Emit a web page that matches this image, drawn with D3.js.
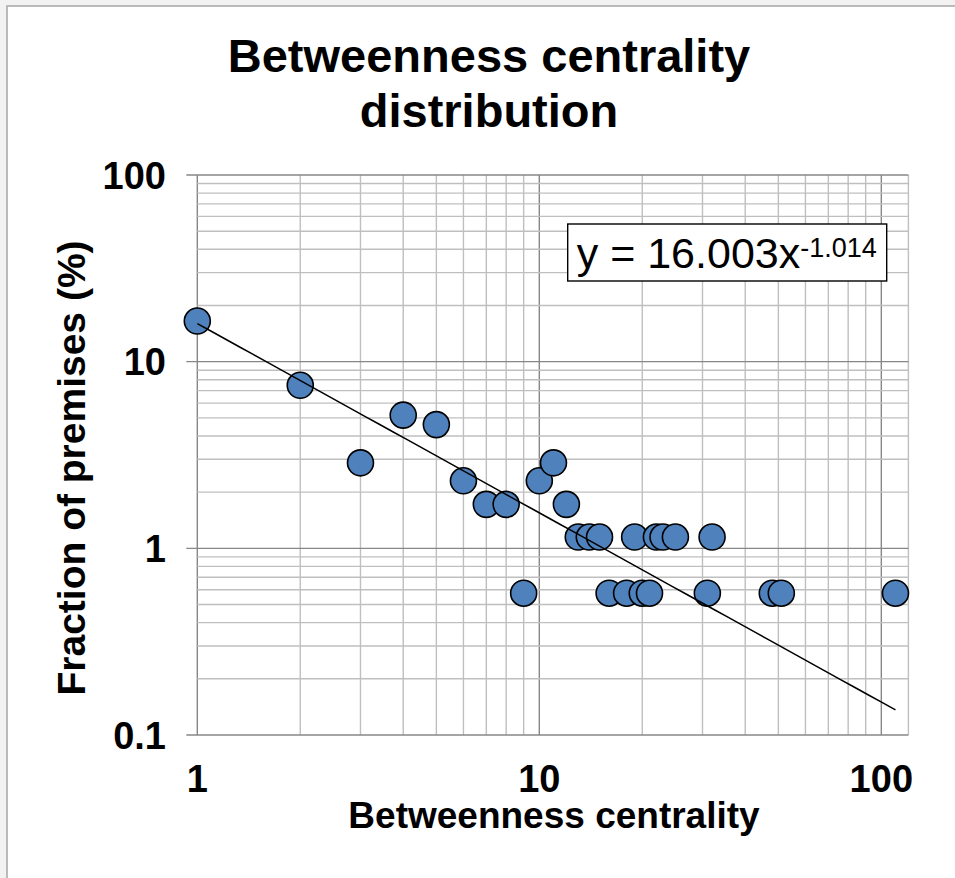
<!DOCTYPE html>
<html>
<head>
<meta charset="utf-8">
<script src="https://cdn.jsdelivr.net/npm/d3@7"></script>
<style>
    body { margin: 0; background: #f2f2f2; }
    svg { display: block; }
</style>
</head>
<body>
<svg id="chart" width="955" height="878"></svg>
<script>
// betweenness centrality (x) vs fraction of premises in % (y)
const xValues = [1, 2, 3, 4, 5, 6, 7, 8, 9, 10, 11, 12,
    13, 14, 15, 19, 22, 23, 25, 32,
    16, 18, 20, 21, 31, 48, 51, 110];
const yValues = [16.5, 7.47, 2.87, 5.17, 4.6, 2.3, 1.72, 1.72, 0.575, 2.3, 2.87, 1.72,
    1.15, 1.15, 1.15, 1.15, 1.15, 1.15, 1.15, 1.15,
    0.575, 0.575, 0.575, 0.575, 0.575, 0.575, 0.575, 0.575];

const xTickLabels = [1, 10, 100];
const yTickLabels = [0.1, 1, 10, 100];

// power trendline y = a * x^b
const trendA = 16.003;
const trendB = -1.014;
const trendFrom = 1;
const trendTo = 110;

const FONT = '"Liberation Sans", Arial, sans-serif';

const svg = d3.select('#chart');

// chart area frame
svg.append('rect')
    .attr('x', 7).attr('y', 6)
    .attr('width', 980).attr('height', 900)
    .attr('fill', '#fff')
    .attr('stroke', '#a6a6a6')
    .attr('stroke-width', 1.5);

// scales
let x = d3.scaleLog().domain([1, 120]).range([197.3, 908.4]);
let y = d3.scaleLog().domain([0.1, 100]).range([735, 175]);

const isMajor = v => Math.abs(Math.log10(v) - Math.round(Math.log10(v))) < 1e-9;

let grid = svg.append('g');

// vertical gridlines
x.ticks().forEach(v => {
    grid.append('line')
        .attr('x1', x(v)).attr('x2', x(v))
        .attr('y1', y(100)).attr('y2', y(0.1))
        .attr('stroke', isMajor(v) ? '#878787' : '#bfbfbf')
        .attr('stroke-width', 1.4);
});
// right edge of plot area
grid.append('line')
    .attr('x1', x.range()[1]).attr('x2', x.range()[1])
    .attr('y1', y(100)).attr('y2', y(0.1))
    .attr('stroke', '#bfbfbf').attr('stroke-width', 1.4);

// horizontal gridlines, major ones run out to the tick marks
y.ticks().forEach(v => {
    grid.append('line')
        .attr('x1', isMajor(v) ? x.range()[0] - 11 : x.range()[0])
        .attr('x2', x.range()[1])
        .attr('y1', y(v)).attr('y2', y(v))
        .attr('stroke', isMajor(v) ? '#878787' : '#bfbfbf')
        .attr('stroke-width', 1.4);
});

let label = (txt, px, py, size, anchor, rot) => {
    svg.append('text')
        .attr('transform', `translate(${px},${py}) rotate(${rot || 0})`)
        .attr('text-anchor', anchor)
        .attr('font-family', FONT)
        .attr('font-weight', 'bold')
        .attr('font-size', size)
        .attr('fill', '#000')
        .text(txt);
};

// tick labels
xTickLabels.forEach(v => label(String(v), x(v), 792, 38, 'middle'));
yTickLabels.forEach(v => label(String(v), 166, y(v) + 13.5, 38, 'end'));

// titles
label('Betweenness centrality', 489, 72, 47, 'middle');
label('distribution', 489, 127, 47, 'middle');
label('Betweenness centrality', 554, 828, 37, 'middle');
label('Fraction of premises (%)', 85, 468, 39, 'middle', -90);

// data points
svg.append('g')
    .selectAll('circle')
    .data(xValues.map((v, i) => ({x: v, y: yValues[i]})))
    .enter().append('circle')
    .attr('cx', d => x(d.x))
    .attr('cy', d => y(d.y))
    .attr('r', 13)
    .attr('fill', '#4f81bd')
    .attr('stroke', '#000')
    .attr('stroke-width', 1.6);

// trendline, drawn above the markers
let trendX = d3.range(0, 51).map(i => trendFrom * Math.pow(trendTo / trendFrom, i / 50));
let trendLine = d3.line()
    .x(d => x(d))
    .y(d => y(trendA * Math.pow(d, trendB)));
svg.append('path')
    .datum(trendX)
    .attr('d', trendLine)
    .attr('fill', 'none')
    .attr('stroke', '#000')
    .attr('stroke-width', 1.5);

// equation label
svg.append('rect')
    .attr('x', 567.7).attr('y', 224)
    .attr('width', 319).attr('height', 57)
    .attr('fill', '#fff')
    .attr('stroke', '#000')
    .attr('stroke-width', 1.4);

let eq = svg.append('text')
    .attr('x', 576.7).attr('y', 268)
    .attr('font-family', FONT)
    .attr('font-size', 43)
    .attr('fill', '#000');
eq.append('tspan').text('y = ' + trendA.toFixed(3) + 'x');
eq.append('tspan')
    .attr('dy', -11.3)
    .attr('font-size', 27)
    .text(trendB.toFixed(3));
</script>
</body>
</html>
